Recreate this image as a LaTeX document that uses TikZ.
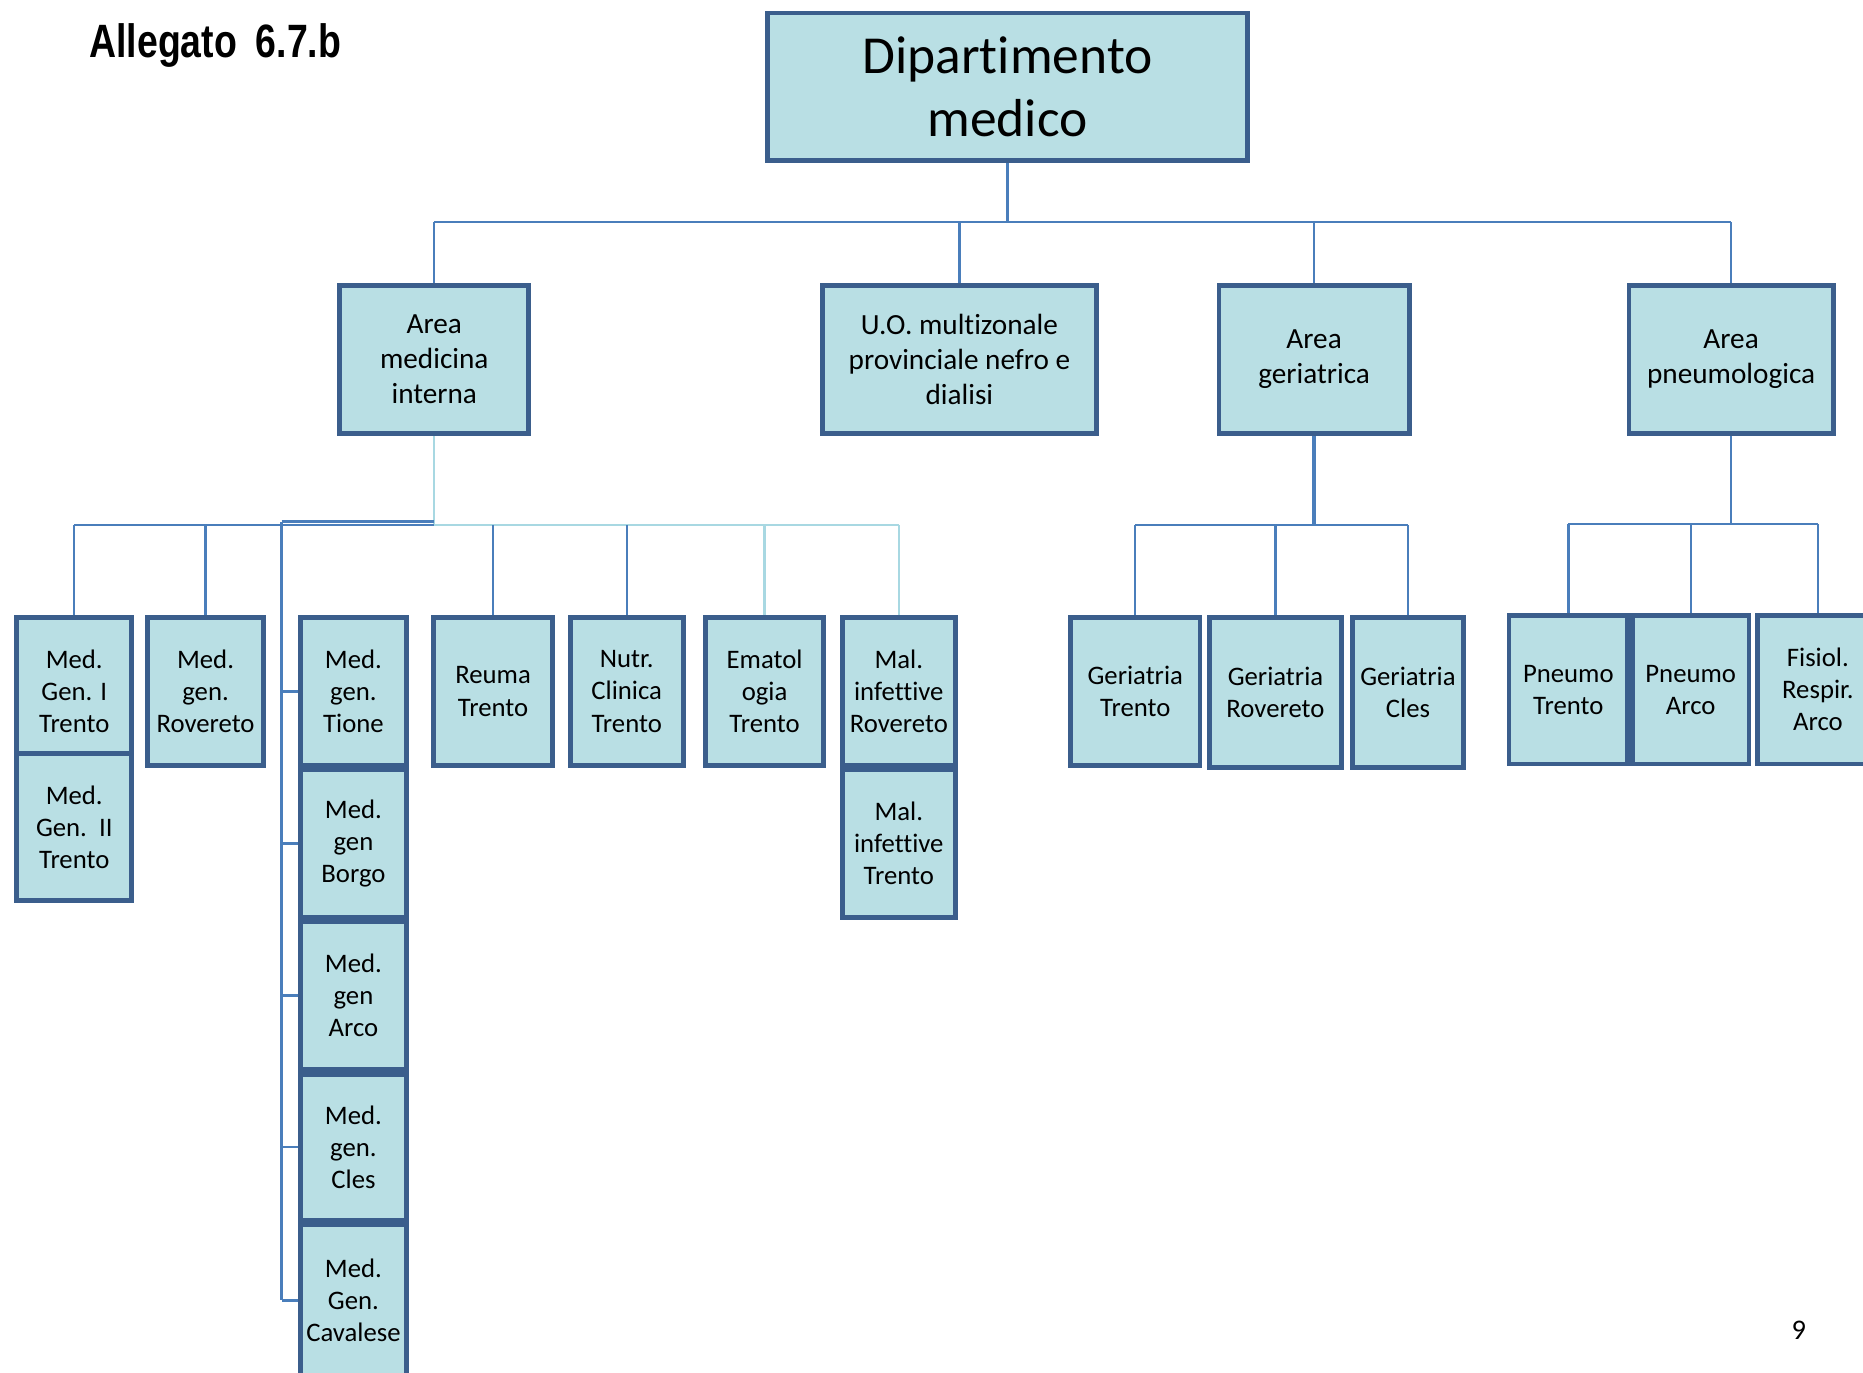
\documentclass[tikz,border=0pt]{standalone}
\usepackage{fontspec}
\setmainfont{Carlito}[Ligatures=NoCommon]
\newfontfamily\titlefont{Liberation Sans}
\usetikzlibrary{backgrounds}
\definecolor{boxfill}{HTML}{B9DFE4}
\definecolor{boxdraw}{HTML}{3B5E8C}
\definecolor{lineblue}{HTML}{4A7EBB}
\definecolor{linelight}{HTML}{A8D8E2}
\tikzset{
  ubx/.style={rectangle, draw=boxdraw, fill=boxfill, line width=2.9pt, inner sep=0pt, align=center, text=black},
  lvthree/.style={font=\fontsize{16}{19.2}\selectfont},
  lvtwo/.style={font=\fontsize{17.5}{21}\selectfont},
  conn/.style={draw=lineblue, line width=1.4pt},
  lconn/.style={draw=linelight, line width=1.4pt}
}
\newcommand{\ubox}[7][]{\node[ubx,#1, minimum width={(#5-#3-4)*0.025cm}, minimum height={(#6-#4-4)*0.025cm}] (#2) at ({(#3+#5)/2},{(#4+#6)/2}) {#7};}
\begin{document}
\begin{tikzpicture}[x=0.025cm,y=-0.025cm]
\useasboundingbox (0,0) rectangle (1568,1155);
\clip (0,0) rectangle (1568,1155);
% title
\node[anchor=base west, inner sep=0pt, font=\titlefont\bfseries\fontsize{28}{32}\selectfont] (title) at (75,48) {\scalebox{0.8}[1]{Allegato\hspace{0.5em}6.7.b}};
\node[anchor=base, inner sep=0pt, font=\fontsize{17}{20}\selectfont] (pnum) at (1514,1127) {9};
% level 1
\ubox[font=\fontsize{32}{38}\selectfont]{dip}{644}{9}{1052}{137}{Dipartimento\\medico}
% level 2
\ubox[lvtwo]{ami}{284}{238}{447}{367}{Area\\medicina\\interna}
\ubox[lvtwo]{uo}{690}{238}{925}{367}{U.O. multizonale\\provinciale nefro e\\dialisi}
\ubox[lvtwo]{ag}{1024}{238}{1188}{367}{Area\\geriatrica}
\ubox[lvtwo]{ap}{1369}{238}{1545}{367}{Area\\pneumologica}
% level 3 medicina interna
\ubox[lvthree]{mg1}{12}{518}{113}{646}{Med.\\Gen. I\\Trento}
\ubox[lvthree]{mg2}{12}{632}{113}{760}{Med.\\Gen.\ \ II\\Trento}
\ubox[lvthree]{mgr}{122}{518}{224}{646}{Med.\\gen.\\Rovereto}
\ubox[lvthree]{mgt}{251}{518}{344}{646}{Med.\\gen.\\Tione}
\ubox[lvthree]{mgb}{251}{646}{344}{774}{Med.\\gen\\Borgo}
\ubox[lvthree]{mga}{251}{774}{344}{902}{Med.\\gen\\Arco}
\ubox[lvthree]{mgc}{251}{902}{344}{1029}{Med.\\gen.\\Cles}
\ubox[lvthree]{mgv}{251}{1029}{344}{1160}{Med.\\Gen.\\Cavalese}
\ubox[lvthree]{reu}{363}{518}{467}{646}{Reuma\\Trento}
\ubox[lvthree]{nut}{478}{518}{577}{646}{Nutr.\\Clinica\\Trento}
\ubox[lvthree]{ema}{592}{518}{695}{646}{Ematol\\ogia\\Trento}
\ubox[lvthree]{mir}{707}{518}{806}{646}{Mal.\\infettive\\Rovereto}
\ubox[lvthree]{mit}{707}{646}{806}{774}{Mal.\\infettive\\Trento}
% geriatria
\ubox[lvthree]{gt}{899}{518}{1012}{646}{Geriatria\\Trento}
\ubox[lvthree]{gr}{1016}{518}{1131}{648}{Geriatria\\Rovereto}
\ubox[lvthree]{gc}{1136}{518}{1234}{648}{Geriatria\\Cles}
% pneumo
\ubox[lvthree]{pt}{1268}{516}{1372}{645}{Pneumo\\Trento}
\ubox[lvthree]{pa}{1372}{516}{1474}{645}{Pneumo\\Arco}
\ubox[lvthree]{fr}{1477}{516}{1583}{645}{Fisiol.\\Respir.\\Arco}
% connectors
\coordinate (yA) at (0,187);
\coordinate (yB) at (0,442);
\coordinate (yB2) at (0,439);
\coordinate (xT) at (237,0);
\coordinate (yG) at (0,442);
\coordinate (yP) at (0,441);
\begin{pgfonlayer}{background}
\draw[conn] (dip.south) -- (dip.south |- yA);
\draw[conn] (ami.north |- yA) -- (ap.north |- yA);
\foreach \n in {ami,uo,ag,ap} \draw[conn] (\n.north |- yA) -- (\n.north);
% medicina interna
\draw[lconn] (ami.south) -- (ami.south |- yB);
\draw[lconn] (ami.south |- yB) -- (mir.north |- yB);
\draw[conn] (mg1.north |- yB) -- (ami.south |- yB);
\draw[conn] (xT |- yB2) -- (ami.south |- yB2);
\draw[conn] (mg1.north |- yB) -- (mg1.north);
\draw[conn] (mgr.north |- yB) -- (mgr.north);
\draw[conn] (xT |- yB2) -- (xT |- mgv.west);
\foreach \n in {mgt,mgb,mga,mgc,mgv} \draw[conn] (xT |- \n.west) -- (\n.west);
\draw[conn] (reu.north |- yB) -- (reu.north);
\draw[conn] (nut.north |- yB) -- (nut.north);
\draw[lconn] (ema.north |- yB) -- (ema.north);
\draw[lconn] (mir.north |- yB) -- (mir.north);
% geriatria
\draw[conn, line width=2pt] (ag.south) -- (ag.south |- yG);
\draw[conn] (gt.north |- yG) -- (gc.north |- yG);
\foreach \n in {gt,gr,gc} \draw[conn] (\n.north |- yG) -- (\n.north);
% pneumo
\draw[conn] (ap.south) -- (ap.south |- yP);
\draw[conn] (pt.north |- yP) -- (fr.north |- yP);
\foreach \n in {pt,pa,fr} \draw[conn] (\n.north |- yP) -- (\n.north);
\end{pgfonlayer}
\end{tikzpicture}
\end{document}
